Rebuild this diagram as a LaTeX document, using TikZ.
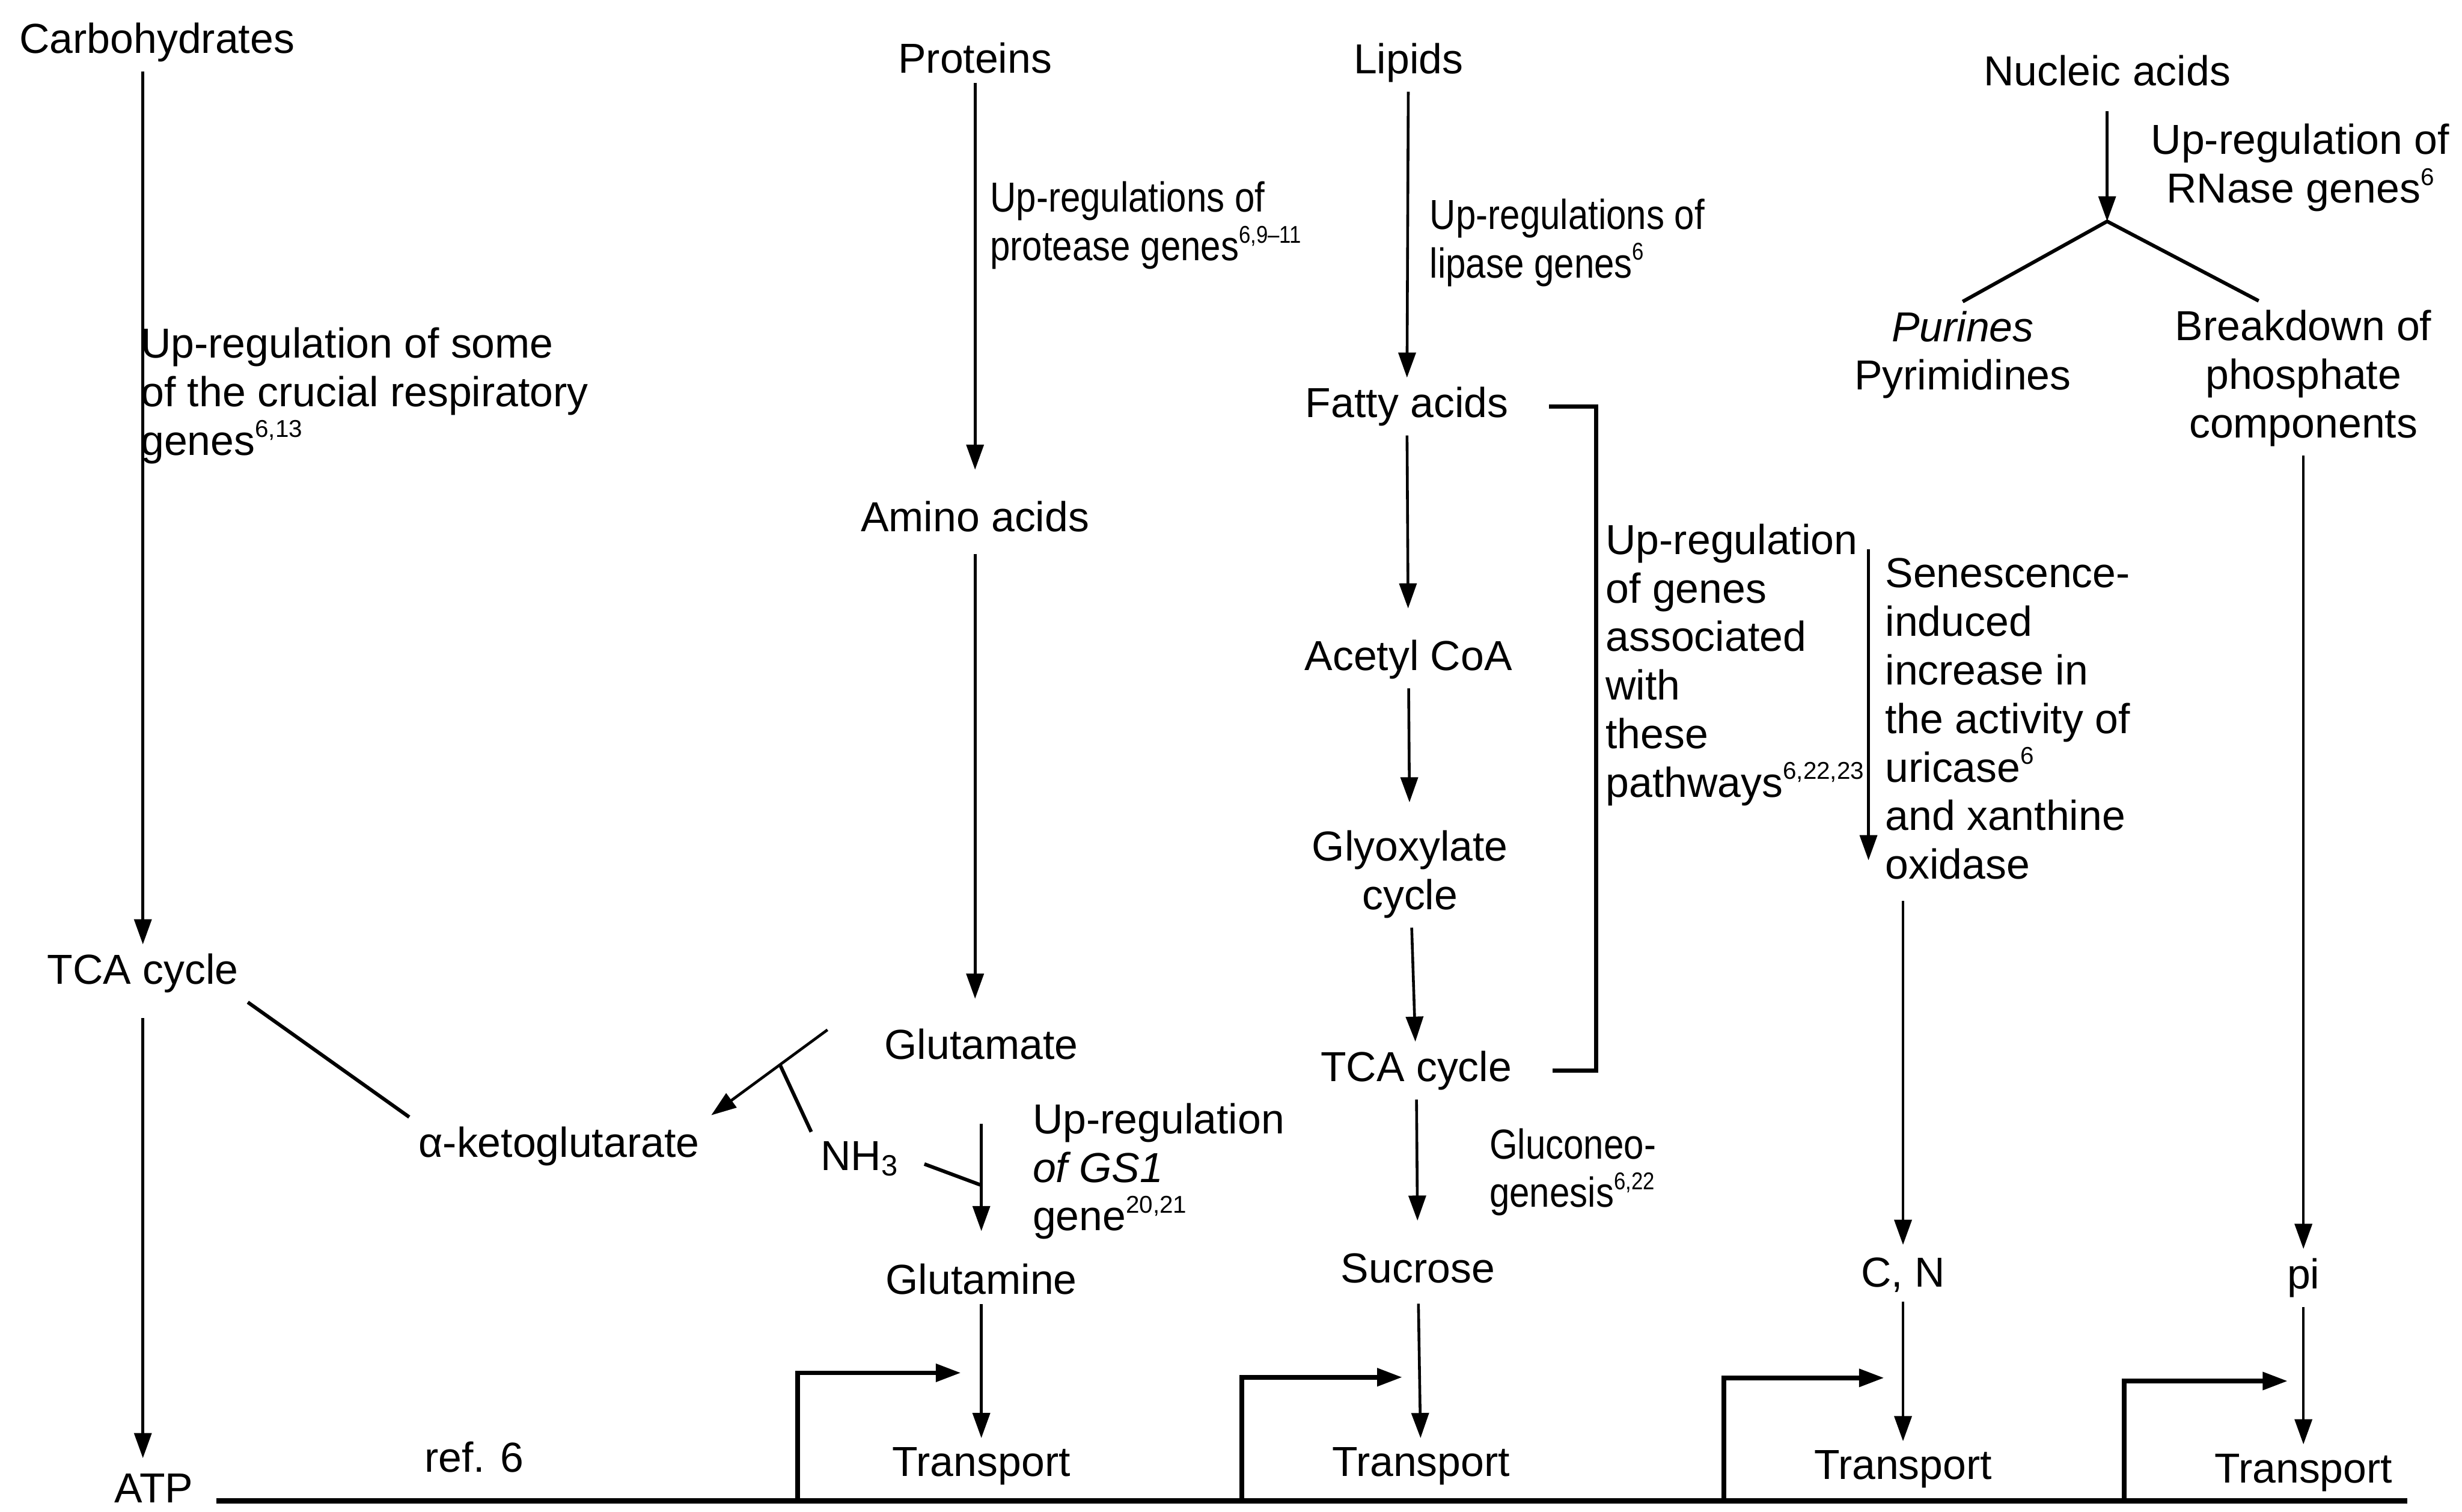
\documentclass[tikz,border=0pt]{standalone}
\usepackage{fontspec}
\setmainfont{Liberation Sans}
\newfontfamily\slimfont[FakeStretch=0.86]{Liberation Sans}
\usetikzlibrary{arrows.meta,calc}
\newcommand\supref[1]{\raisebox{0.8ex}{\fontsize{4.4}{5}\selectfont #1}}
\tikzset{
  >={Triangle[length=1.6mm,width=1.1mm]},
  % texte
  tx/.style={inner sep=1.5pt,font=\fontsize{7.6}{8.8}\selectfont},
  lbl/.style={tx,inner sep=0pt,anchor=north west,align=left},
  slim/.style={font=\slimfont\fontsize{7.6}{8.8}\selectfont},
  % pfeile
  flow/.style={->,draw=black,line width=0.5pt},
  bond/.style={draw=black,line width=0.65pt},
  feed/.style={->,draw=black,line width=0.85pt},
  base/.style={draw=black,line width=1pt},
  brace/.style={draw=black,line width=0.7pt},
}
\begin{document}
\begin{tikzpicture}[x=0.1mm,y=-0.1mm]
  \useasboundingbox (0,0) rectangle (1568,963);
  % kohlenhydrate
  \node[tx] (carb) at (100,27) {Carbohydrates};
  \node[tx] (tca1) at (91,620) {TCA cycle};
  \node[tx] (atp) at (98,948) {ATP};
  \node[tx] (akg) at (356,730) {α-ketoglutarate};
  \node[tx] (refsix) at (302,928) {ref. 6};
  \node[lbl] (labcarb) at (89,208) {Up-regulation of some\\of the crucial respiratory\\genes\supref{6,13}};
  % proteine
  \node[tx] (prot) at (621,37) {Proteins};
  \node[tx] (amino) at (621,329) {Amino acids};
  \node[tx] (glu) at (625,665) {Glutamate};
  \node[tx] (nh) at (548,738) {NH\textsubscript{3}};
  \node[tx] (gln) at (625,815) {Glutamine};
  \node[tx] (tr1) at (625,934) {Transport};
  \node[lbl,slim] (labprot) at (630,115) {Up-regulations of\\protease genes\supref{6,9–11}};
  \node[lbl] (labgs) at (657,702) {Up-regulation\\\textit{of GS1}\\gene\supref{20,21}};
  % lipide
  \node[tx] (lip) at (897,40) {Lipids};
  \node[tx] (fatty) at (896,259) {Fatty acids};
  \node[tx] (acetyl) at (897,420) {Acetyl CoA};
  \node[tx,align=center] (glyox) at (898,557) {Glyoxylate\\cycle};
  \node[tx] (tca2) at (902,682) {TCA cycle};
  \node[tx] (sucr) at (903,808) {Sucrose};
  \node[tx] (tr2) at (905,934) {Transport};
  \node[lbl,slim] (lablip) at (910,126) {Up-regulations of\\lipase genes\supref{6}};
  \node[lbl,slim] (labgluc) at (948,718) {Gluconeo-\\genesis\supref{6,22}};
  \node[lbl] (labpath) at (1022,333) {Up-regulation\\of genes\\associated\\with\\these\\pathways\supref{6,22,23}};
  % nukleinsaeuren
  \node[tx] (nuc) at (1342,45) {Nucleic acids};
  \node[tx,anchor=north,align=center] (labnuc) at (1465,73) {Up-regulation of\\RNase genes\supref{6}};
  \node[tx,align=center] (pur) at (1250,226) {\textit{Purines}\\Pyrimidines};
  \node[tx,align=center] (brk) at (1467,241) {Breakdown of\\phosphate\\components};
  \node[lbl] (labsen) at (1200,355) {Senescence-\\induced\\increase in\\the activity of\\uricase\supref{6}\\and xanthine\\oxidase};
  \node[tx] (cn) at (1212,812) {C, N};
  \node[tx] (tr3) at (1212,936) {Transport};
  \node[tx] (pi) at (1467,814) {pi};
  \node[tx] (tr4) at (1467,938) {Transport};
  % hilfspunkte
  \coordinate (gluout) at (527,656);
  \coordinate (nhfork) at ($(gluout)!0.4!(akg.north east)$);
  \coordinate (gsjoin) at ($(glu)!0.6!(gln)$);
  \coordinate (fork) at (1342,141);
  \coordinate (senA) at (1190,350);
  \coordinate (senB) at (1190,548);
  \coordinate (atpstart) at (138,956);
  \coordinate (atpend) at (1533,956);
  \coordinate (f1) at (508,956);
  \coordinate (f2) at (791,956);
  \coordinate (f3) at (1098,956);
  \coordinate (f4) at (1353,956);

  \draw[flow] (carb.south -| tca1) -- (tca1);
  \draw[flow,shorten <=1mm,shorten >=0.4mm] (tca1) -- (tca1 |- atp.north);
  \draw[bond] (tca1.south east) -- (akg.north west);
  \draw[base] (atpstart) -- (atpend);

  \draw[flow,shorten >=1.4mm] (prot) -- (amino);
  \draw[flow,shorten <=0.8mm,shorten >=1.3mm] (amino) -- (amino |- glu.north);
  \draw[flow,shorten >=0.2mm] (gluout) -- (akg.north east);
  \draw[bond] (nhfork) -- (nh.north west);
  \draw[flow,shorten <=3.5mm,shorten >=1.5mm] (glu) -- (gln);
  \draw[bond,shorten <=1mm] (nh.east) -- (gsjoin);
  \draw[flow] (gln) -- (tr1);

  \draw[flow] (lip) -- (fatty);
  \draw[flow,shorten >=1.4mm] (fatty) -- (acetyl);
  \draw[flow,shorten >=1.2mm] (acetyl) -- (glyox);
  \draw[flow] (glyox) -- (tca2);
  \draw[flow,shorten >=1.5mm] (tca2) -- (sucr);
  \draw[flow,shorten <=0.7mm] (sucr) -- (tr2);
  \draw[brace] ($(fatty.east)+(2mm,0)$) -- ++(3mm,0) |- ($(tca2.east)+(2mm,0)$);

  \draw[flow,shorten <=1mm] (nuc) -- (fork);
  \draw[bond] (pur.north) -- (fork) -- (brk.120);
  \draw[flow] (brk) -- (pi);
  \draw[flow] (pi) -- (tr4);
  \draw[flow] (senA) -- (senB);
  \draw[flow,shorten <=1.3mm,shorten >=0.2mm] (cn |- labsen.south) -- (cn);
  \draw[flow] (cn) -- (tr3);

  \draw[feed,shorten >=1.3mm] (f1) |- ($(gln)!0.5!(tr1)$);
  \draw[feed,shorten >=1.1mm] (f2) |- ($(sucr)!0.55!(tr2)$);
  \draw[feed,shorten >=1.2mm] (f3) |- ($(cn)!0.53!(tr3)$);
  \draw[feed,shorten >=1mm] (f4) |- ($(pi)!0.53!(tr4)$);
\end{tikzpicture}
\end{document}
